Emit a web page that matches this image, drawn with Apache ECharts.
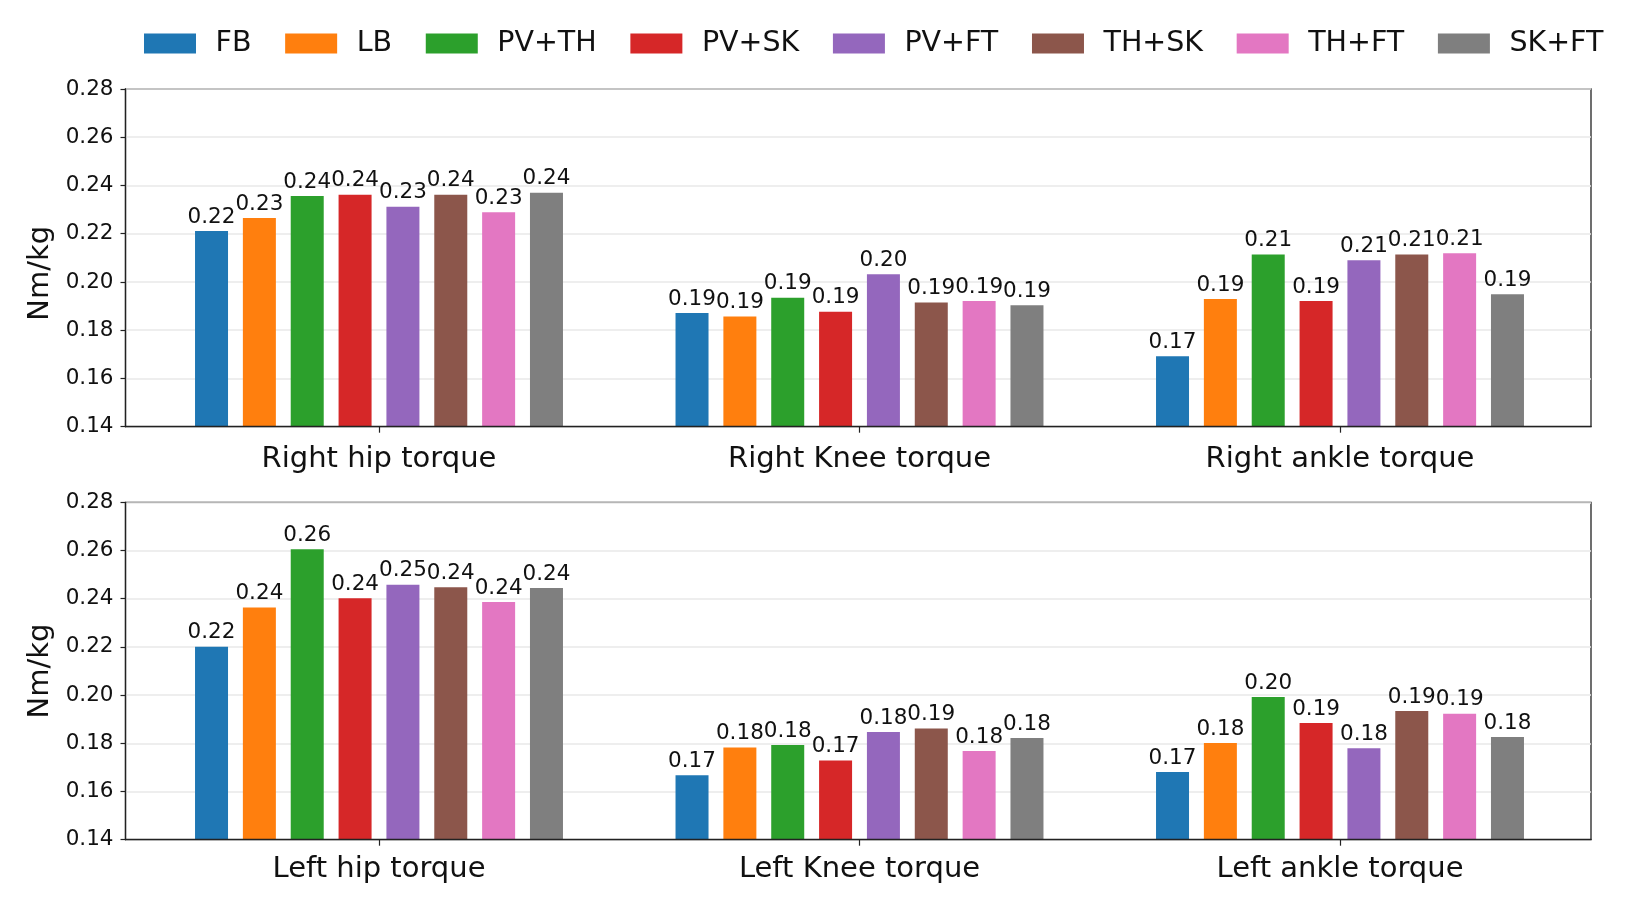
<!DOCTYPE html>
<html><head><meta charset="utf-8">
<script src="https://cdn.jsdelivr.net/npm/echarts@6/dist/echarts.min.js"></script>
<style>html,body{margin:0;padding:0;background:#fff}#c{width:1635px;height:914px}</style>
</head><body><div id="c"></div>
<script>
// Series (legend) names and colours
const seriesNames = ['FB', 'LB', 'PV+TH', 'PV+SK', 'PV+FT', 'TH+SK', 'TH+FT', 'SK+FT'];
const seriesColors = ['#1f77b4', '#ff7f0e', '#2ca02c', '#d62728', '#9467bd', '#8c564b', '#e377c2', '#7f7f7f'];

// Categories of each panel
const topCategories = ['Right hip torque', 'Right Knee torque', 'Right ankle torque'];
const bottomCategories = ['Left hip torque', 'Left Knee torque', 'Left ankle torque'];

// Values (Nm/kg), one entry per series in seriesNames order
const rightHip   = [0.2211, 0.2265, 0.2356, 0.2362, 0.2312, 0.2362, 0.2289, 0.2370];
const rightKnee  = [0.1871, 0.1857, 0.1935, 0.1877, 0.2032, 0.1915, 0.1921, 0.1904];
const rightAnkle = [0.1692, 0.1929, 0.2114, 0.1921, 0.2090, 0.2114, 0.2119, 0.1949];
const leftHip    = [0.2201, 0.2363, 0.2605, 0.2402, 0.2458, 0.2448, 0.2386, 0.2444];
const leftKnee   = [0.1667, 0.1783, 0.1793, 0.1729, 0.1847, 0.1861, 0.1768, 0.1822];
const leftAnkle  = [0.1681, 0.1801, 0.1992, 0.1884, 0.1779, 0.1934, 0.1923, 0.1826];

// Y axis range
const yMin = 0.14, yMax = 0.28, yStep = 0.02;
const yName = 'Nm/kg';

const FONT = 'DejaVu Sans';
const TXT = '#111';

const chart = echarts.init(document.getElementById('c'), null, {renderer: 'canvas'});

const frameTops = [89, 502.3];
const frameHeights = [337.7, 337.4];
const labelMargins = [18, 15];

const grids = [], xAxes = [], yAxes = [], series = [];
[0, 1].forEach(function (p) {
  // frame grid
  grids.push({left: 125.5, width: 1465.5, top: frameTops[p], height: frameHeights[p],
    show: true, borderColor: '#222', borderWidth: 1.3, backgroundColor: 'transparent'});
  // data grid
  grids.push({left: 138.75, width: 1441.5, top: frameTops[p], height: frameHeights[p]});
  const fg = p * 2, dg = p * 2 + 1;
  xAxes.push({gridIndex: fg, type: 'value', min: 0, max: 1, z: 10,
    axisLine: {show: true, lineStyle: {color: '#222', width: 1.3}},
    axisTick: {show: false}, axisLabel: {show: false}, splitLine: {show: false}});
  xAxes.push({gridIndex: dg, type: 'category', data: p === 0 ? topCategories : bottomCategories,
    axisLine: {show: false},
    axisTick: {show: true, alignWithLabel: true, length: 6, lineStyle: {color: '#222', width: 1.2}},
    axisLabel: {fontSize: 29, color: TXT, fontFamily: FONT, margin: labelMargins[p]},
    splitLine: {show: false}});
  yAxes.push({gridIndex: fg, type: 'value', min: yMin, max: yMax, interval: yStep,
    name: yName, nameLocation: 'middle', nameGap: 64,
    nameTextStyle: {fontSize: 29, color: TXT, fontFamily: FONT, padding: p === 0 ? [0, 31, 0, 0] : 0},
    axisLine: {show: true, lineStyle: {color: '#222', width: 1.3}},
    axisTick: {show: true, length: 5, lineStyle: {color: '#222', width: 1.2}},
    axisLabel: {fontSize: 21.5, color: TXT, fontFamily: FONT, margin: 12,
      formatter: function (v) { return v.toFixed(2); }},
    splitLine: {show: true, lineStyle: {color: '#e8e8e8', width: 1.5}}});
  yAxes.push({gridIndex: dg, type: 'value', min: yMin, max: yMax, show: false});

  const groups = p === 0 ? [rightHip, rightKnee, rightAnkle] : [leftHip, leftKnee, leftAnkle];
  seriesNames.forEach(function (name, i) {
    series.push({
      name: name, type: 'bar', xAxisIndex: dg, yAxisIndex: dg,
      data: groups.map(function (g) { return g[i]; }),
      barWidth: 33, barGap: '45%',
      itemStyle: {color: seriesColors[i]},
      label: {show: true, position: 'top', distance: 3, fontSize: 21.5, color: TXT, fontFamily: FONT,
        formatter: function (prm) { return prm.value.toFixed(2); }}
    });
  });
});

chart.setOption({
  animation: false,
  backgroundColor: '#fff',
  color: seriesColors,
  textStyle: {fontFamily: FONT},
  legend: {data: seriesNames, left: 139, top: 24, itemWidth: 52, itemHeight: 20, itemGap: 33.7,
    icon: 'rect', selectedMode: false,
    textStyle: {fontSize: 28.5, color: TXT, fontFamily: FONT, padding: [0, 0, 0, 14.5]}},
  grid: grids, xAxis: xAxes, yAxis: yAxes, series: series
});
</script></body></html>
